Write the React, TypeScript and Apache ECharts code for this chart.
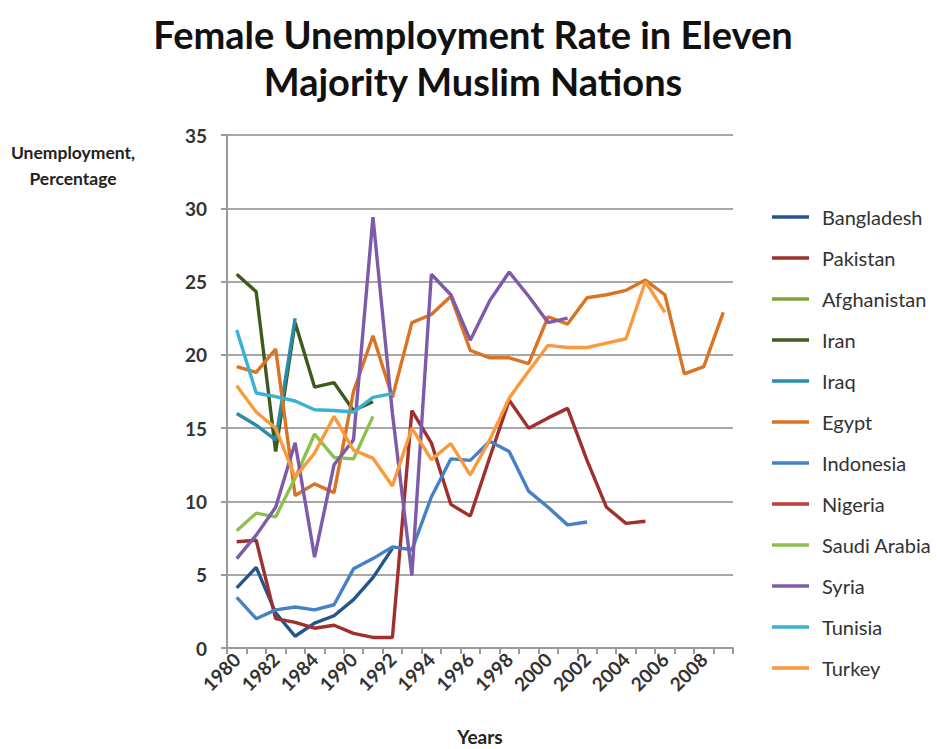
import React, { useEffect, useRef } from "react";
import * as echarts from "echarts";

const years = [
  "1980", "1981", "1982", "1983", "1984", "1985",
  "1990", "1991", "1992", "1993", "1994", "1995", "1996", "1997", "1998", "1999",
  "2000", "2001", "2002", "2003", "2004", "2005", "2006", "2007", "2008", "2009",
];

const yTicks = [0, 5, 10, 15, 20, 25, 30, 35];

const bangladesh = [4.1, 5.5, 2.4, 0.8, 1.7, 2.2, 3.3, 4.8, 6.8];
const pakistan = [7.25, 7.35, 2.0, 1.75, 1.35, 1.55, 1.0, 0.72, 0.72, 16.2, 14.0, 9.8, 9.0, 13.0, 16.9, 15.0, 15.7, 16.35, 12.8, 9.6, 8.5, 8.65];
const afghanistan: (number | null)[] = [];
const iran = [25.5, 24.3, 13.4, 22.2, 17.8, 18.1, 16.2, 16.8];
const iraq = [16.0, 15.2, 14.2, 22.5];
const egypt = [19.2, 18.8, 20.4, 10.4, 11.2, 10.6, 17.5, 21.3, 17.1, 22.2, 22.75, 24.0, 20.3, 19.8, 19.8, 19.4, 22.6, 22.1, 23.9, 24.1, 24.4, 25.1, 24.1, 18.7, 19.2, 22.9];
const indonesia = [3.45, 2.0, 2.6, 2.8, 2.6, 2.95, 5.4, 6.1, 6.9, 6.7, 10.3, 12.9, 12.8, 14.1, 13.4, 10.7, 9.6, 8.4, 8.6];
const nigeria: (number | null)[] = [];
const saudiArabia = [8.0, 9.2, 8.95, 11.6, 14.6, 13.0, 12.9, 15.8];
const syria = [6.1, 7.7, 9.6, 14.0, 6.2, 12.5, 14.2, 29.4, 16.0, 4.95, 25.5, 24.1, 21.0, 23.7, 25.65, 24.0, 22.2, 22.5];
const tunisia = [21.7, 17.4, 17.15, 16.85, 16.25, 16.2, 16.1, 17.1, 17.35];
const turkey = [17.9, 16.1, 15.0, 11.65, 13.3, 15.8, 13.5, 12.95, 11.05, 15.0, 12.85, 13.95, 11.8, 14.2, 17.05, 18.9, 20.65, 20.5, 20.5, 20.8, 21.1, 25.0, 22.9];

const seriesDefs: { name: string; data: (number | null)[]; color: string }[] = [
  { name: "Bangladesh", data: bangladesh, color: "#24558F" },
  { name: "Pakistan", data: pakistan, color: "#A0302D" },
  { name: "Afghanistan", data: afghanistan, color: "#7AA63C" },
  { name: "Iran", data: iran, color: "#3E5A1E" },
  { name: "Iraq", data: iraq, color: "#2A8CA8" },
  { name: "Egypt", data: egypt, color: "#DA7424" },
  { name: "Indonesia", data: indonesia, color: "#4680C6" },
  { name: "Nigeria", data: nigeria, color: "#BE3D3A" },
  { name: "Saudi Arabia", data: saudiArabia, color: "#8DC14E" },
  { name: "Syria", data: syria, color: "#7D5BA8" },
  { name: "Tunisia", data: tunisia, color: "#3AB2D4" },
  { name: "Turkey", data: turkey, color: "#FA9A3C" },
];

const FONT = "Lato, 'Open Sans', sans-serif";

export default function App() {
  const ref = useRef<HTMLDivElement>(null);

  useEffect(() => {
    document.body.style.margin = "0";
    if (!ref.current) return;
    const chart = echarts.init(ref.current, null, { renderer: "svg" });
    chart.setOption({
      animation: false,
      backgroundColor: "#ffffff",
      textStyle: { fontFamily: FONT },
      grid: { left: 227, right: 204, top: 135, bottom: 101, containLabel: false, outerBoundsMode: "none" },
      legend: {
        orient: "vertical",
        left: 772,
        top: 207,
        padding: 0,
        itemWidth: 37,
        itemHeight: 14,
        itemGap: 21,
        icon: "path://M0,0 L37,0 L37,3.6 L0,3.6 Z",
        textStyle: { fontFamily: FONT, fontSize: 20, color: "#333333", padding: [0, 0, 0, 8], lineHeight: 17 },
        data: seriesDefs.map((s) => s.name),
      },
      graphic: [
        {
          type: "text",
          x: 473,
          y: 10,
          style: {
            text: "Female Unemployment Rate in Eleven\nMajority Muslim Nations",
            font: `bold 38px ${FONT}`,
            fill: "#111111",
            textAlign: "center",
            textVerticalAlign: "top",
            lineHeight: 47,
          },
        },
        {
          type: "text",
          x: 73,
          y: 165,
          style: {
            text: "Unemployment,\nPercentage",
            font: `bold 17.5px ${FONT}`,
            fill: "#222222",
            textAlign: "center",
            textVerticalAlign: "middle",
            lineHeight: 26,
          },
        },
      ],
      xAxis: {
        type: "category",
        data: years,
        boundaryGap: true,
        name: "Years",
        nameLocation: "middle",
        nameGap: 79,
        nameTextStyle: { fontFamily: FONT, fontSize: 19, fontWeight: "bold", color: "#222222" },
        axisLine: { lineStyle: { color: "#9A9A9A", width: 2 } },
        axisTick: { show: true, interval: 0, length: 6, lineStyle: { color: "#9A9A9A", width: 2 } },
        axisLabel: {
          interval: 1,
          rotate: 45,
          margin: 8,
          fontFamily: FONT,
          fontSize: 19,
          fontWeight: "bold",
          color: "#333333",
        },
        splitLine: { show: false },
      },
      yAxis: {
        type: "value",
        min: yTicks[0],
        max: yTicks[yTicks.length - 1],
        interval: 5,
        axisLine: { show: true, lineStyle: { color: "#9A9A9A", width: 2 } },
        axisTick: { show: true, length: 6, lineStyle: { color: "#9A9A9A", width: 2 } },
        axisLabel: {
          margin: 20,
          fontFamily: FONT,
          fontSize: 19,
          fontWeight: "bold",
          color: "#333333",
        },
        splitLine: { show: true, lineStyle: { color: "#A8A8A8", width: 2 } },
      },
      series: seriesDefs.map((s) => ({
        name: s.name,
        type: "line",
        data: s.data,
        symbol: "none",
        showSymbol: false,
        connectNulls: false,
        color: s.color,
        lineStyle: { color: s.color, width: 3.4 },
        itemStyle: { color: s.color },
      })),
    });
    return () => chart.dispose();
  }, []);

  return <div ref={ref} style={{ width: 937, height: 749 }} />;
}
